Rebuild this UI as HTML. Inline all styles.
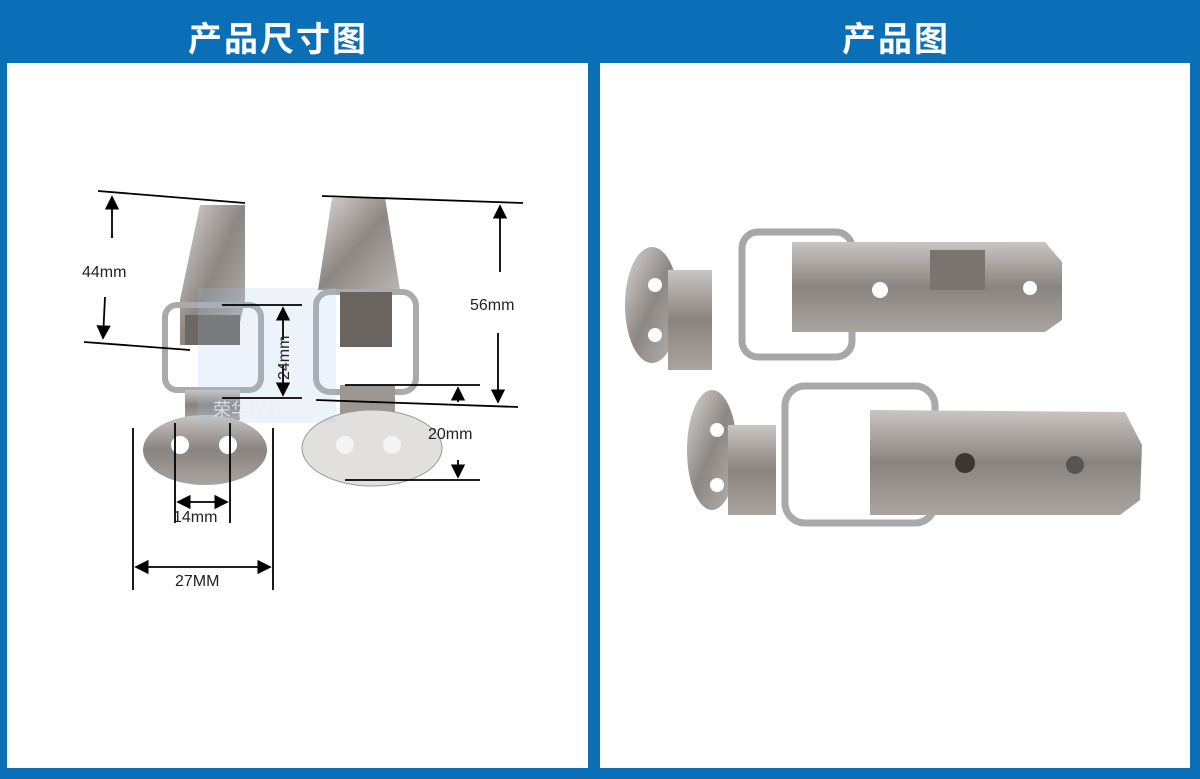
<!DOCTYPE html>
<html><head><meta charset="utf-8"><style>
html,body{margin:0;padding:0}
body{width:1200px;height:779px;background:#0b6fb8;position:relative;overflow:hidden;font-family:"Liberation Sans","Noto Sans CJK SC",sans-serif}
.h{position:absolute;top:12px;color:#fff;font-size:34px;font-weight:bold;font-family:"Noto Sans CJK SC","WenQuanYi Zen Hei",sans-serif;letter-spacing:2px}
svg{position:absolute;left:0;top:0}
</style></head><body>
<div class="h" style="left:188px">产品尺寸图</div>
<div class="h" style="left:842px">产品图</div>
<svg width="1200" height="779" viewBox="0 0 1200 779" font-family="Liberation Sans, sans-serif">
<defs>
<linearGradient id="m" x1="0" y1="0" x2="1" y2="1"><stop offset="0" stop-color="#d9d6d3"/><stop offset=".5" stop-color="#8d8783"/><stop offset="1" stop-color="#b9b5b2"/></linearGradient>
<linearGradient id="m2" x1="0" y1="0" x2="0" y2="1"><stop offset="0" stop-color="#c9c5c2"/><stop offset=".5" stop-color="#8a8480"/><stop offset="1" stop-color="#a9a4a0"/></linearGradient>
<marker id="a" markerWidth="8" markerHeight="8" refX="7" refY="4" orient="auto"><path d="M0,0 L8,4 L0,8z" fill="#000"/></marker>
</defs>
<rect x="7" y="63" width="581" height="705" fill="#fff"/>
<rect x="600" y="63" width="590" height="705" fill="#fff"/>
<!-- left latch -->
<polygon points="200,205 245,205 245,300 235,345 180,345 180,300" fill="url(#m)"/>
<rect x="165" y="305" width="96" height="85" rx="12" fill="none" stroke="#aaa" stroke-width="6"/>
<rect x="185" y="315" width="55" height="30" fill="#6e6864"/>
<polygon points="185,390 240,390 240,420 185,420" fill="url(#m2)"/>
<ellipse cx="205" cy="450" rx="62" ry="35" fill="url(#m2)"/>
<circle cx="180" cy="445" r="9" fill="#fff"/><circle cx="228" cy="445" r="9" fill="#fff"/>
<!-- right latch -->
<polygon points="332,198 385,198 400,290 318,290" fill="url(#m)"/>
<rect x="316" y="292" width="100" height="100" rx="14" fill="none" stroke="#aaa" stroke-width="6"/>
<rect x="340" y="292" width="52" height="55" fill="#6a6460"/>
<rect x="340" y="385" width="55" height="40" fill="#9c9793"/>
<ellipse cx="372" cy="448" rx="70" ry="38" fill="#e2e0de" stroke="#999"/>
<circle cx="345" cy="445" r="9" fill="#f4f4f4"/><circle cx="392" cy="445" r="9" fill="#f4f4f4"/>
<!-- watermark -->
<rect x="198" y="288" width="138" height="135" fill="#9ec3e6" opacity=".2"/>
<text x="213" y="416" font-size="18" fill="#e8f0f8" opacity=".8" font-family="Noto Sans CJK SC,sans-serif">荣华探针</text>
<!-- dimension lines -->
<g stroke="#000" stroke-width="1.8" fill="none">
<line x1="98" y1="191" x2="245" y2="203"/><line x1="84" y1="342" x2="190" y2="350"/>
<line x1="112" y1="238" x2="112" y2="197" marker-end="url(#a)"/><line x1="105" y1="297" x2="103" y2="338" marker-end="url(#a)"/>
<line x1="322" y1="196" x2="523" y2="203"/><line x1="316" y1="400" x2="518" y2="407"/>
<line x1="500" y1="272" x2="500" y2="206" marker-end="url(#a)"/><line x1="498" y1="333" x2="498" y2="402" marker-end="url(#a)"/>
<line x1="222" y1="305" x2="302" y2="305"/><line x1="222" y1="398" x2="302" y2="398"/>
<line x1="283" y1="340" x2="283" y2="308" marker-end="url(#a)"/><line x1="283" y1="365" x2="283" y2="395" marker-end="url(#a)"/>
<line x1="345" y1="385" x2="480" y2="385"/><line x1="345" y1="480" x2="480" y2="480"/>
<line x1="458" y1="402" x2="458" y2="388" marker-end="url(#a)"/><line x1="458" y1="460" x2="458" y2="477" marker-end="url(#a)"/>
<line x1="175" y1="423" x2="175" y2="523"/><line x1="230" y1="423" x2="230" y2="523"/>
<line x1="200" y1="502" x2="178" y2="502" marker-end="url(#a)"/><line x1="200" y1="502" x2="227" y2="502" marker-end="url(#a)"/>
<line x1="133" y1="428" x2="133" y2="590"/><line x1="273" y1="428" x2="273" y2="590"/>
<line x1="200" y1="567" x2="136" y2="567" marker-end="url(#a)"/><line x1="200" y1="567" x2="270" y2="567" marker-end="url(#a)"/>
</g>
<g font-size="16" fill="#222">
<text x="82" y="277">44mm</text><text x="470" y="310">56mm</text><text x="428" y="439">20mm</text>
<text x="173" y="522">14mm</text><text x="175" y="586">27MM</text>
<text transform="translate(289,380) rotate(-90)">24mm</text>
</g>
<!-- right panel photos -->
<ellipse cx="652" cy="305" rx="27" ry="58" fill="url(#m)"/>
<circle cx="655" cy="285" r="7" fill="#fff"/><circle cx="655" cy="335" r="7" fill="#fff"/>
<rect x="668" y="270" width="44" height="100" fill="url(#m2)"/>
<rect x="742" y="232" width="110" height="125" rx="16" fill="none" stroke="#a7a7a7" stroke-width="7"/>
<polygon points="792,242 1045,242 1062,262 1062,320 1045,332 792,332" fill="url(#m2)"/>
<rect x="930" y="250" width="55" height="40" fill="#7a7470"/>
<circle cx="880" cy="290" r="8" fill="#fff"/><circle cx="1030" cy="288" r="7" fill="#fff"/>
<ellipse cx="712" cy="450" rx="25" ry="60" fill="url(#m)"/>
<circle cx="717" cy="430" r="7" fill="#fff"/><circle cx="717" cy="485" r="7" fill="#fff"/>
<rect x="728" y="425" width="48" height="90" fill="url(#m2)"/>
<rect x="785" y="386" width="150" height="137" rx="20" fill="none" stroke="#a9a9a9" stroke-width="7"/>
<polygon points="870,410 1125,412 1142,445 1140,500 1120,515 870,515" fill="url(#m2)"/>
<circle cx="965" cy="463" r="10" fill="#3a3634"/><circle cx="1075" cy="465" r="9" fill="#555"/>
</svg>
</body></html>
